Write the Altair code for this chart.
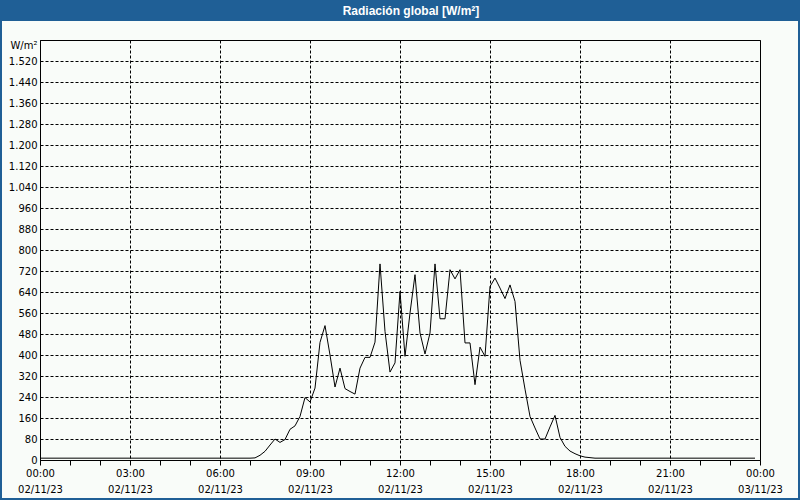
import altair as alt
import pandas as pd

TITLE = "Radiación global [W/m²]"
UNIT = "W/m²"
BLUE = "#1F5F96"
BG = "#F9FCF9"

# 10-minute samples from 00:00 to 23:50 (W/m²)
night_am = [7] * 43                      # 00:00 .. 07:00
day = [8, 18, 33, 57, 80, 67, 78, 117, 130, 166, 238, 221,          # 07:10 .. 09:00
       274, 448, 512, 400, 278, 350, 272, 261, 251, 350, 391, 391,  # 09:10 .. 11:00
       449, 747, 490, 335, 370, 642, 395, 560, 706, 484, 404, 484,  # 11:10 .. 13:00
       747, 538, 538, 725, 690, 725, 446, 446, 287, 430, 395, 661,  # 13:10 .. 15:00
       693, 655, 615, 667, 604, 380, 270, 166, 122, 80, 80, 126,    # 15:10 .. 17:00
       170, 86, 52, 34, 24, 16, 11, 9]                              # 17:10 .. 18:20
night_pm = [7] * 33                      # 18:30 .. 23:50
values = night_am + day + night_pm
minutes = [i * 10 for i in range(len(values))]

y_ticks = list(range(0, 1521, 80))
x_ticks = list(range(0, 25))

df = pd.DataFrame({"hour": [m / 60 for m in minutes], "value": values})

x_axis = alt.Axis(
    values=x_ticks,
    labelExpr=("datum.value % 3 == 0 ? [((datum.value % 24) < 10 ? '0' : '') + (datum.value % 24) + ':00', "
               "datum.value < 24 ? '02/11/23' : '03/11/23'] : ''"),
    labelOverlap=False, labelFlush=False,
    labelFont="DejaVu Sans", labelFontSize=10, labelColor="#000000",
    labelLineHeight=16, labelPadding=3, labelBaseline="top",
    tickSize=5, tickColor="#000000",
    domainColor="#000000",
    grid=True, gridColor="#000000", gridDash=[3, 2],
    gridOpacity={"condition": {"test": "datum.value % 3 == 0", "value": 1}, "value": 0},
    title=None,
)

y_axis = alt.Axis(
    values=y_ticks,
    labelExpr="replace(format(datum.value, ','), ',', '.')",
    labelFont="DejaVu Sans", labelFontSize=10, labelColor="#000000",
    labelPadding=3, tickSize=0, domainColor="#000000",
    grid=True, gridColor="#000000", gridDash=[3, 2],
    title=UNIT, titleAngle=0, titleAlign="right", titleBaseline="middle",
    titleX=-3, titleY=5, titleFont="DejaVu Sans", titleFontSize=10,
    titleFontWeight="normal", titleColor="#000000",
)

line = alt.Chart(df).mark_line(color="#000000", strokeWidth=1).encode(
    x=alt.X("hour:Q", scale=alt.Scale(domain=[0, 24], nice=False, zero=False), axis=x_axis),
    y=alt.Y("value:Q", scale=alt.Scale(domain=[0, 1600], nice=False), axis=y_axis),
)

tdf = pd.DataFrame({"t": [TITLE]})
bar = alt.Chart(tdf).mark_rect(color=BLUE).encode(
    x=alt.value(-40), x2=alt.value(760), y=alt.value(-40), y2=alt.value(-19)
)
title_text = alt.Chart(tdf).mark_text(
    color="white", font="Liberation Sans", fontSize=12, fontWeight="bold",
    align="center", baseline="middle"
).encode(x=alt.value(371), y=alt.value(-29.5), text="t:N")
border = alt.Chart(tdf).mark_rect(fillOpacity=0, stroke=BLUE, strokeWidth=2).encode(
    x=alt.value(-39), x2=alt.value(759), y=alt.value(-39), y2=alt.value(459)
)

chart = alt.layer(line, bar, title_text, border).properties(
    width=720, height=420,
    autosize=alt.AutoSizeParams(type="none"),
    padding={"left": 40, "top": 40, "right": 40, "bottom": 40},
    background=BG,
).configure_view(stroke="#000000", strokeWidth=1)

chart.save("out.html", embed_options={"renderer": "svg", "actions": False})
